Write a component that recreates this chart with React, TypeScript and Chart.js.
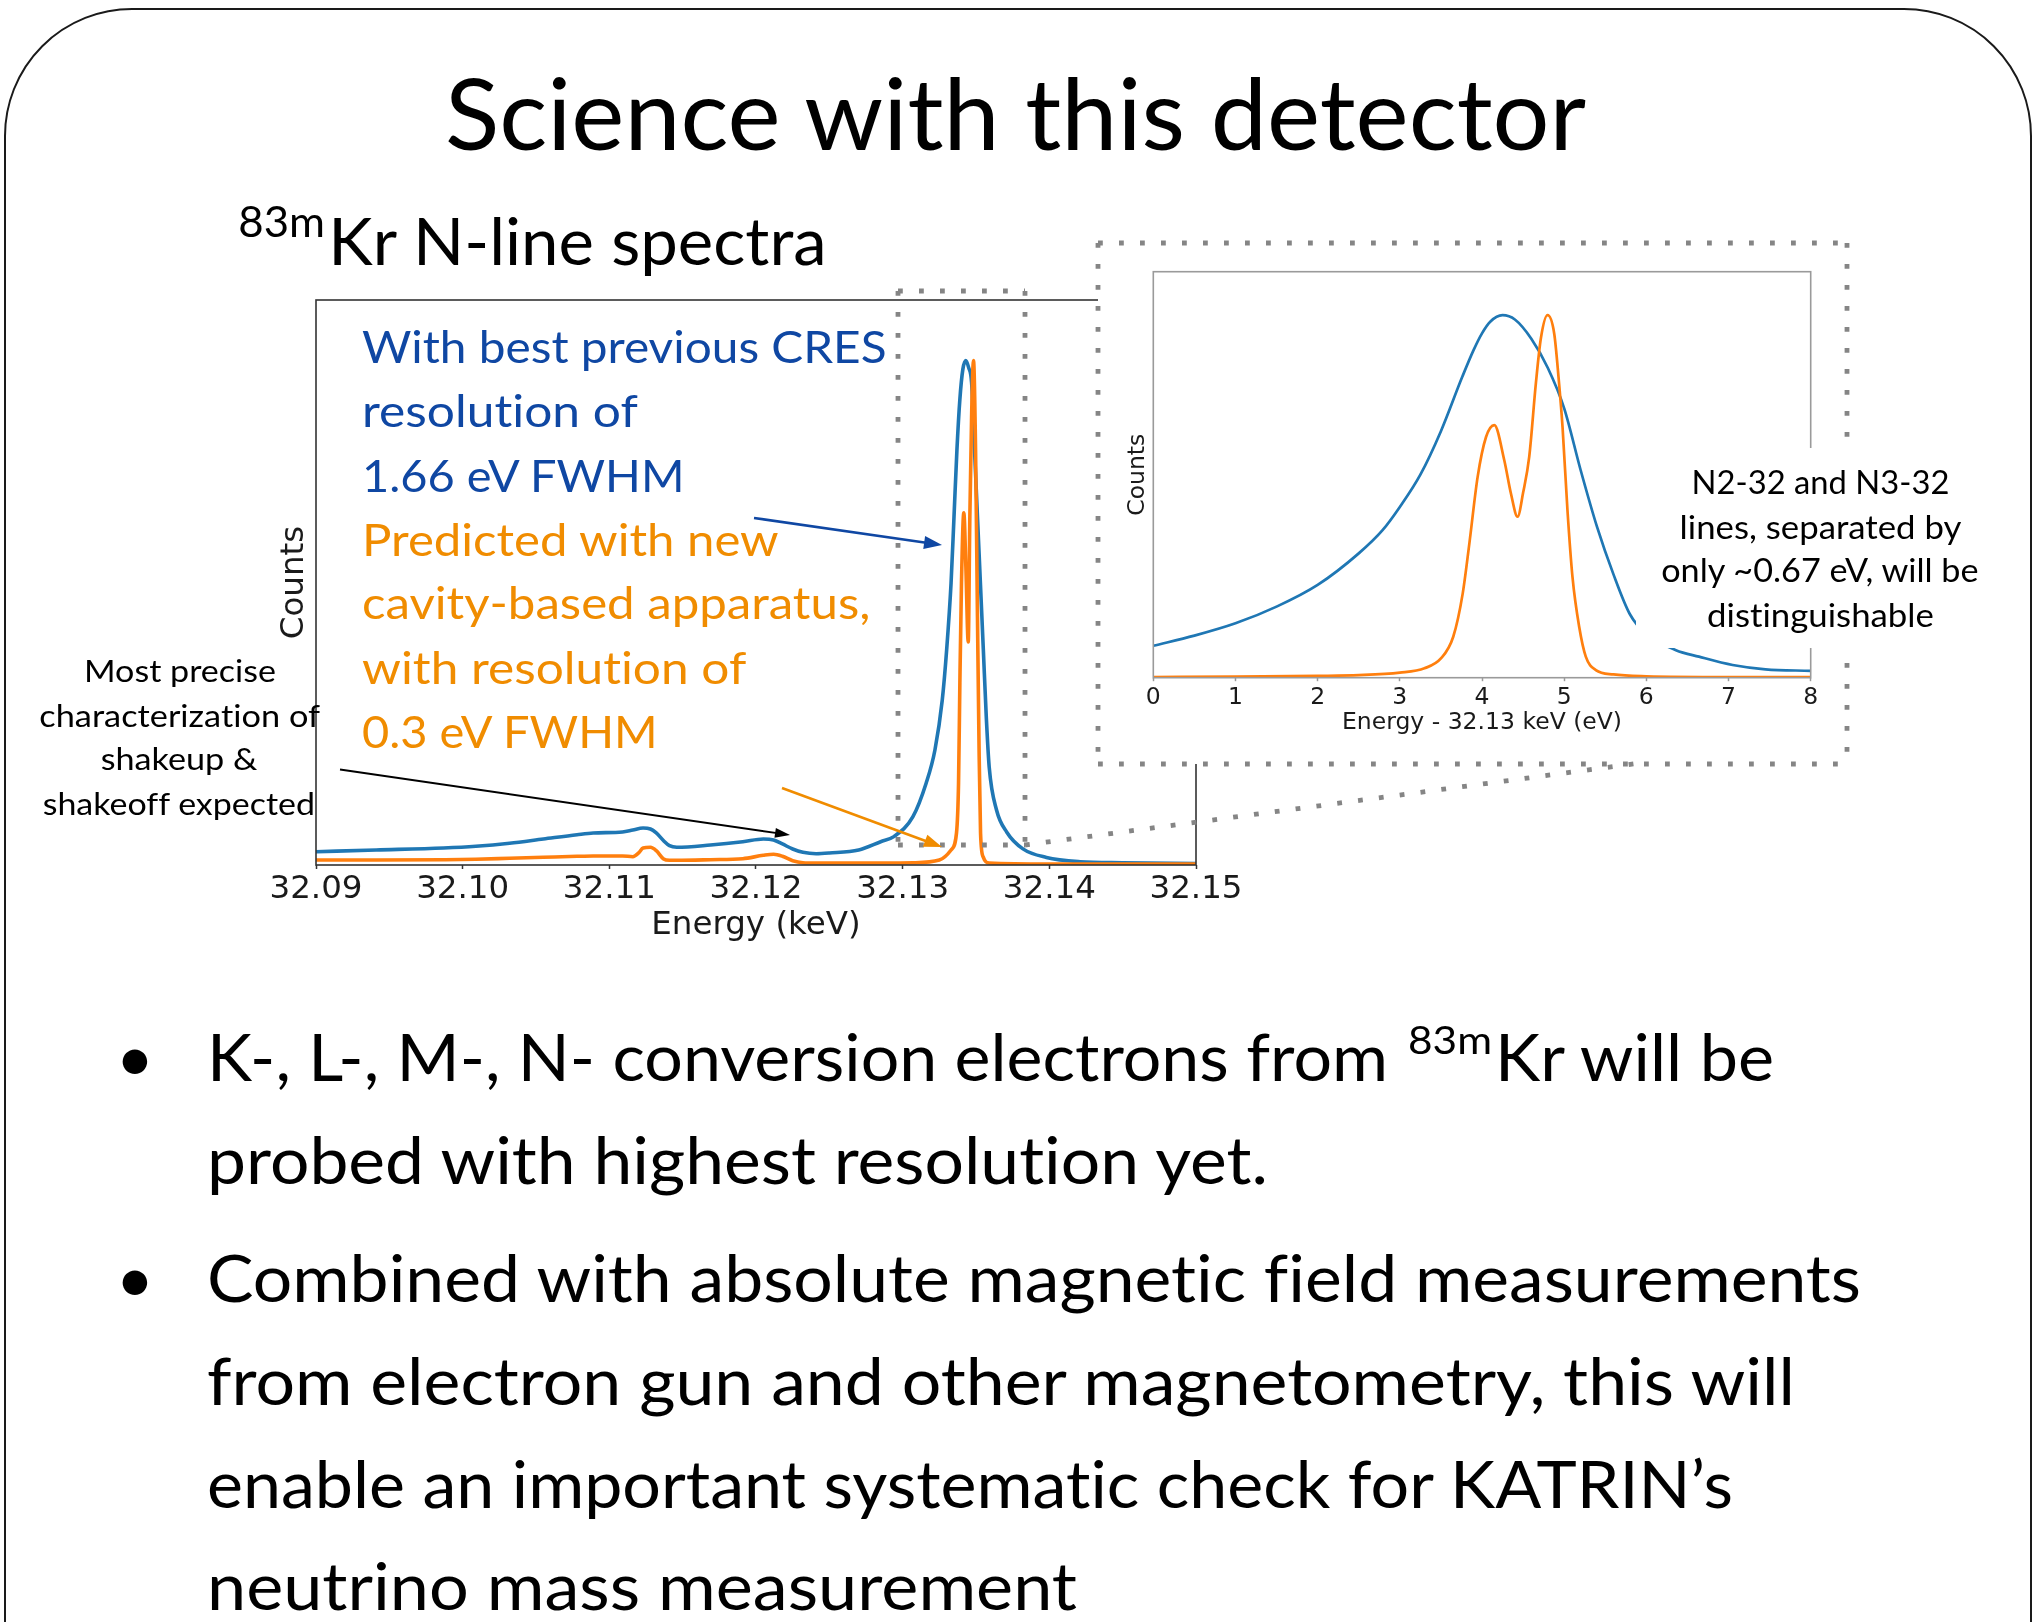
import React, { useEffect, useRef } from "react";
import { Chart, registerables } from "chart.js";

Chart.register(...registerables);

// ---------------- data ----------------
const MAIN_X_TICKS_KEV = [32.09, 32.1, 32.11, 32.12, 32.13, 32.14, 32.15];

const MAIN_BLUE_KEV = [
  32.09, 32.0941, 32.0987, 32.1009, 32.1032, 32.1055, 32.1078, 32.1089, 32.1109, 32.1116,
  32.1123, 32.1128, 32.1132, 32.1137, 32.1141, 32.1146, 32.1169, 32.1191, 32.1205, 32.1212,
  32.1218, 32.1225, 32.1232, 32.1241, 32.125, 32.127, 32.1285, 32.1294, 32.1307, 32.1316,
  32.1322, 32.1327, 32.133, 32.1333, 32.1335, 32.1337, 32.1339, 32.1341, 32.1343, 32.1345,
  32.1347, 32.1349, 32.1351, 32.1353, 32.1355, 32.1357, 32.1359, 32.1364, 32.1371, 32.1382,
  32.1398, 32.1421, 32.145, 32.15,
];
const MAIN_BLUE_COUNTS = [
  2.64, 2.98, 3.37, 3.71, 4.31, 5.16, 6.01, 6.35, 6.55, 6.94,
  7.34, 7.14, 6.35, 4.82, 3.83, 3.51, 3.97, 4.62, 5.16, 4.96,
  4.17, 3.17, 2.52, 2.24, 2.38, 2.98, 4.62, 5.62, 9.58, 16.2,
  22.8, 32.7, 42.7, 55.9, 69.0, 82.3, 92.3, 98.2, 100, 98.6,
  95.6, 82.3, 69.0, 55.9, 42.7, 29.4, 19.4, 10.9, 6.5, 3.2,
  1.5, 0.65, 0.44, 0.3,
];

const MAIN_ORANGE_KEV = [
  32.09, 32.0941, 32.0987, 32.1009, 32.1032, 32.1055, 32.1078, 32.1089, 32.1109, 32.1116,
  32.112, 32.1123, 32.1128, 32.1132, 32.1137, 32.1141, 32.1146, 32.1169, 32.1191, 32.1205,
  32.1212, 32.1218, 32.1225, 32.1232, 32.1241, 32.129, 32.1307, 32.1325, 32.1333, 32.13367,
  32.13381, 32.1339, 32.13401, 32.13417, 32.13431, 32.13447, 32.13458, 32.1347, 32.13483, 32.13497,
  32.1351, 32.13521, 32.13531, 32.13549, 32.1359, 32.14, 32.15,
];
const MAIN_ORANGE_COUNTS = [
  0.99, 0.99, 1.05, 1.13, 1.33, 1.53, 1.73, 1.79, 1.79, 1.65,
  2.4, 3.37, 3.51, 2.84, 1.19, 0.93, 0.93, 1.05, 1.25, 1.92,
  2.12, 1.73, 0.85, 0.46, 0.4, 0.4, 0.45, 0.99, 2.98, 6.35,
  16.3, 36.1, 56.0, 69.8, 59.1, 44.2, 69.0, 88.9, 100, 82.3,
  49.2, 22.8, 6.35, 1.6, 0.4, 0.2, 0.2,
];

const INSET_X_TICKS_EV = [0, 1, 2, 3, 4, 5, 6, 7, 8];

const INSET_BLUE_EV = [
  0, 0.5, 1.0, 1.5, 2.0, 2.5, 2.79, 3.0, 3.25, 3.5, 3.76, 3.9, 4.0, 4.1, 4.25,
  4.4, 4.6, 4.8, 5.0, 5.2, 5.4, 5.6, 5.8, 6.0, 6.36, 6.64, 7.05, 7.45, 8.0,
];
const INSET_BLUE_COUNTS = [
  8.8, 11.6, 15.0, 19.6, 25.6, 34.3, 40.7, 47.1, 56.0, 68.0, 83.0, 90.5, 95.0, 98.2, 100,
  98.8, 93.5, 85.5, 74.3, 57.3, 41.6, 28.5, 17.5, 12.0, 7.6, 5.8, 3.5, 2.3, 1.9,
];

const INSET_ORANGE_EV = [
  0, 1.0, 2.0, 2.5, 3.0, 3.3, 3.5, 3.65, 3.765, 3.846, 3.947, 4.049, 4.15, 4.271, 4.352,
  4.433, 4.5, 4.575, 4.656, 4.717, 4.798, 4.879, 4.931, 4.98, 5.04, 5.101, 5.182, 5.263,
  5.385, 5.6, 6.0, 7.0, 8.0,
];
const INSET_ORANGE_COUNTS = [
  0.2, 0.3, 0.5, 0.7, 1.4, 2.6, 5.3, 11.3, 23.2, 37.0, 55.4, 66.4, 69.7, 60.0, 50.8,
  44.4, 51.0, 61.0, 81.3, 93.7, 100, 94.9, 83.0, 69.2, 46.2, 27.8, 14.1, 5.8,
  2.1, 0.9, 0.4, 0.2, 0.2,
];

const BLUE = "#1f77b4";
const ORANGE = "#ff7f0e";
const TEXT_BLUE = "#0f47a3";
const TEXT_ORANGE = "#f08c00";
const DOT_GRAY = "#858585";

// ---------------- chart helpers ----------------
const framePlugin = {
  id: "axisFrame",
  afterDatasetsDraw(chart: any, _args: any, opts: any) {
    const { ctx, chartArea: a } = chart;
    ctx.save();
    ctx.strokeStyle = opts.color;
    ctx.lineWidth = opts.width;
    ctx.strokeRect(a.left, a.top, a.right - a.left, a.bottom - a.top);
    ctx.restore();
  },
};

const pts = (xs: number[], ys: number[]) => xs.map((x, i) => ({ x, y: ys[i] }));

function spectrumConfig(p: any) {
  const font = (size: number) => ({ family: "DejaVu Sans", size });
  return {
    type: "line",
    data: {
      datasets: [
        {
          data: pts(p.orangeX, p.orangeY),
          borderColor: ORANGE,
          borderWidth: p.lineWidth,
          pointRadius: 0,
          cubicInterpolationMode: "monotone",
          fill: false,
        },
        {
          data: pts(p.blueX, p.blueY),
          borderColor: BLUE,
          borderWidth: p.lineWidth,
          pointRadius: 0,
          cubicInterpolationMode: "monotone",
          fill: false,
        },
      ],
    },
    options: {
      animation: false,
      responsive: false,
      maintainAspectRatio: false,
      events: [],
      layout: { padding: p.padding },
      plugins: {
        legend: { display: false },
        tooltip: { enabled: false },
        axisFrame: { color: p.frameColor, width: 1.6 },
      },
      scales: {
        x: {
          type: "linear",
          min: p.xMin,
          max: p.xMax,
          afterBuildTicks: (s: any) => {
            s.ticks = p.ticks.map((v: number) => ({ value: v }));
          },
          afterFit: (s: any) => {
            s.height = p.xAxisHeight;
          },
          ticks: {
            autoSkip: false,
            maxRotation: 0,
            padding: p.tickPadding,
            color: "#1a1a1a",
            font: font(p.fontSize),
            callback: (v: any) => p.tickFormat(Number(v)),
          },
          grid: {
            display: true,
            drawOnChartArea: false,
            drawTicks: true,
            tickLength: p.tickLength,
            tickColor: p.frameColor,
            tickWidth: 1.5,
          },
          border: { display: false },
          title: {
            display: true,
            text: p.xTitle,
            color: "#1a1a1a",
            font: font(p.fontSize),
            padding: { top: 0, bottom: p.xTitlePad },
          },
        },
        y: {
          min: 0,
          max: 112,
          afterFit: (s: any) => {
            s.width = p.yAxisWidth;
          },
          ticks: { display: false },
          grid: { display: false },
          border: { display: false },
          title: {
            display: true,
            text: "Counts",
            color: "#1a1a1a",
            font: font(p.fontSize),
            padding: { top: p.yTitlePad, bottom: 0 },
          },
        },
      },
    },
    plugins: [framePlugin],
  };
}

function ChartCanvas({ left, top, width, height, build }: any) {
  const ref = useRef<HTMLCanvasElement>(null);
  useEffect(() => {
    const chart = new Chart(ref.current as HTMLCanvasElement, build() as any);
    return () => chart.destroy();
  }, []);
  return (
    <canvas
      ref={ref}
      width={width}
      height={height}
      style={{ position: "absolute", left, top, width, height }}
    />
  );
}

function DotLine({ x1, y1, x2, y2 }: any) {
  return (
    <line
      x1={x1}
      y1={y1}
      x2={x2}
      y2={y2}
      stroke={DOT_GRAY}
      strokeWidth={4.8}
      strokeDasharray="4.8 16.2"
    />
  );
}

function Arrow({ x1, y1, x2, y2, color, width, head, half }: any) {
  const dx = x2 - x1;
  const dy = y2 - y1;
  const len = Math.hypot(dx, dy);
  const ux = dx / len;
  const uy = dy / len;
  const bx = x2 - ux * head;
  const by = y2 - uy * head;
  const px = -uy * half;
  const py = ux * half;
  return (
    <g>
      <line x1={x1} y1={y1} x2={bx + ux * 2} y2={by + uy * 2} stroke={color} strokeWidth={width} />
      <polygon points={`${x2},${y2} ${bx + px},${by + py} ${bx - px},${by - py}`} fill={color} />
    </g>
  );
}

function T({ x, y, size, w, color = "#000", children }: any) {
  return (
    <text
      x={x}
      y={y}
      fontSize={size}
      fill={color}
      textLength={w}
      lengthAdjust="spacingAndGlyphs"
    >
      {children}
    </text>
  );
}

export default function App() {
  const buildMain = () =>
    spectrumConfig({
      orangeX: MAIN_ORANGE_KEV,
      orangeY: MAIN_ORANGE_COUNTS,
      blueX: MAIN_BLUE_KEV,
      blueY: MAIN_BLUE_COUNTS,
      lineWidth: 3.6,
      padding: { left: 0, top: 30, right: 84, bottom: 0 },
      frameColor: "#333333",
      xMin: 32.09,
      xMax: 32.15,
      ticks: MAIN_X_TICKS_KEV,
      tickFormat: (v: number) => v.toFixed(2),
      xAxisHeight: 105,
      tickLength: 4,
      tickPadding: 1.5,
      fontSize: 32.5,
      xTitle: "Energy (keV)",
      xTitlePad: 24.5,
      yAxisWidth: 116,
      yTitlePad: 75,
    });

  const buildInset = () =>
    spectrumConfig({
      orangeX: INSET_ORANGE_EV,
      orangeY: INSET_ORANGE_COUNTS,
      blueX: INSET_BLUE_EV,
      blueY: INSET_BLUE_COUNTS,
      lineWidth: 2.7,
      padding: { left: 0, top: 21.7, right: 29.3, bottom: 0 },
      frameColor: "#9a9a9a",
      xMin: 0,
      xMax: 8,
      ticks: INSET_X_TICKS_EV,
      tickFormat: (v: number) => String(Math.round(v)),
      xAxisHeight: 72.3,
      tickLength: 3.5,
      tickPadding: 2.5,
      fontSize: 23.5,
      xTitle: "Energy - 32.13 keV (eV)",
      xTitlePad: 12.8,
      yAxisWidth: 53.3,
      yTitlePad: 23.3,
    });

  return (
    <div
      style={{
        position: "fixed",
        left: 0,
        top: 0,
        width: 2035,
        height: 1622,
        overflow: "hidden",
        background: "#fff",
      }}
    >
      <div
        style={{
          position: "absolute",
          left: 4,
          top: 8,
          width: 2028,
          height: 1760,
          border: "2px solid #1a1a1a",
          borderRadius: 128,
          boxSizing: "border-box",
        }}
      />

      <ChartCanvas left={200} top={270} width={1080} height={700} build={buildMain} />

      <div
        style={{
          position: "absolute",
          left: 1098,
          top: 243,
          width: 749,
          height: 521,
          background: "#fff",
        }}
      />
      <ChartCanvas left={1100} top={250} width={740} height={500} build={buildInset} />

      <svg
        width={2035}
        height={1622}
        style={{ position: "absolute", left: 0, top: 0, fontVariantLigatures: "none" }}
        fontFamily="Lato"
      >
        {/* dotted zoom box on the main spectrum */}
        <DotLine x1={898} y1={291} x2={1025} y2={291} />
        <DotLine x1={898} y1={291} x2={898} y2={845} />
        <DotLine x1={1025} y1={291} x2={1025} y2={845} />
        <DotLine x1={898} y1={845} x2={1025} y2={845} />
        <DotLine x1={1025} y1={845} x2={1640} y2={763} />
        {/* dotted frame of the inset */}
        <DotLine x1={1098} y1={243} x2={1847} y2={243} />
        <DotLine x1={1098} y1={243} x2={1098} y2={764} />
        <DotLine x1={1847} y1={243} x2={1847} y2={764} />
        <DotLine x1={1098} y1={764} x2={1847} y2={764} />

        {/* arrows */}
        <Arrow x1={754} y1={518} x2={942} y2={545} color={TEXT_BLUE} width={2.6} head={18} half={6.5} />
        <Arrow x1={782} y1={788} x2={942} y2={847} color={TEXT_ORANGE} width={2.6} head={18} half={6.5} />
        <Arrow x1={340} y1={769.5} x2={790} y2={835} color="#000" width={2} head={15} half={5} />

        {/* annotation box over the inset */}
        <rect x={1636} y={448} width={352} height={200} fill="#fff" />
        <T x={1691.6} y={493.8} size={32} w={257.8}>N2-32 and N3-32</T>
        <T x={1679.6} y={538.6} size={32} w={281.8}>lines, separated by</T>
        <T x={1661.2} y={582} size={32} w={317.4}>only ~0.67 eV, will be</T>
        <T x={1707.1} y={626.6} size={32} w={226.8}>distinguishable</T>

        {/* left annotation */}
        <T x={84} y={681.7} size={31} w={192}>Most precise</T>
        <T x={39.3} y={726.7} size={31} w={280.7}>characterization of</T>
        <T x={100.7} y={770} size={31} w={156.7}>shakeup &amp;</T>
        <T x={42.7} y={815} size={31} w={272.3}>shakeoff expected</T>

        {/* coloured legend text */}
        <T x={362} y={363.3} size={44} w={524.6} color={TEXT_BLUE}>With best previous CRES</T>
        <T x={362} y={427.3} size={44} w={275.8} color={TEXT_BLUE}>resolution of</T>
        <T x={362} y={491.7} size={44} w={322.5} color={TEXT_BLUE}>1.66 eV FWHM</T>
        <T x={362} y={555.7} size={44} w={416.7} color={TEXT_ORANGE}>Predicted with new</T>
        <T x={362} y={618.8} size={44} w={508.4} color={TEXT_ORANGE}>cavity-based apparatus,</T>
        <T x={362} y={684} size={44} w={384.3} color={TEXT_ORANGE}>with resolution of</T>
        <T x={362} y={748} size={44} w={295.6} color={TEXT_ORANGE}>0.3 eV FWHM</T>

        {/* titles */}
        <T x={445} y={150} size={98} w={1141}>Science with this detector</T>
        <T x={238.3} y={237.3} size={43} w={86.7}>83m</T>
        <T x={328.3} y={265} size={65} w={498.4}>Kr N-line spectra</T>

        {/* bullets */}
        <text x={135} y={1081} fontSize={66} textAnchor="middle">•</text>
        <T x={207} y={1081} size={66} w={1181}>K-, L-, M-, N- conversion electrons from</T>
        <T x={1408} y={1054} size={38} w={84}>83m</T>
        <T x={1495} y={1081} size={66} w={279}>Kr will be</T>
        <T x={207} y={1183.6} size={66} w={1061}>probed with highest resolution yet.</T>
        <text x={135} y={1301.7} fontSize={66} textAnchor="middle">•</text>
        <T x={207} y={1301.7} size={66} w={1654}>Combined with absolute magnetic field measurements</T>
        <T x={207} y={1404.5} size={66} w={1588}>from electron gun and other magnetometry, this will</T>
        <T x={207} y={1508} size={66} w={1526}>enable an important systematic check for KATRIN’s</T>
        <T x={207} y={1610} size={66} w={870}>neutrino mass measurement</T>
      </svg>
    </div>
  );
}
